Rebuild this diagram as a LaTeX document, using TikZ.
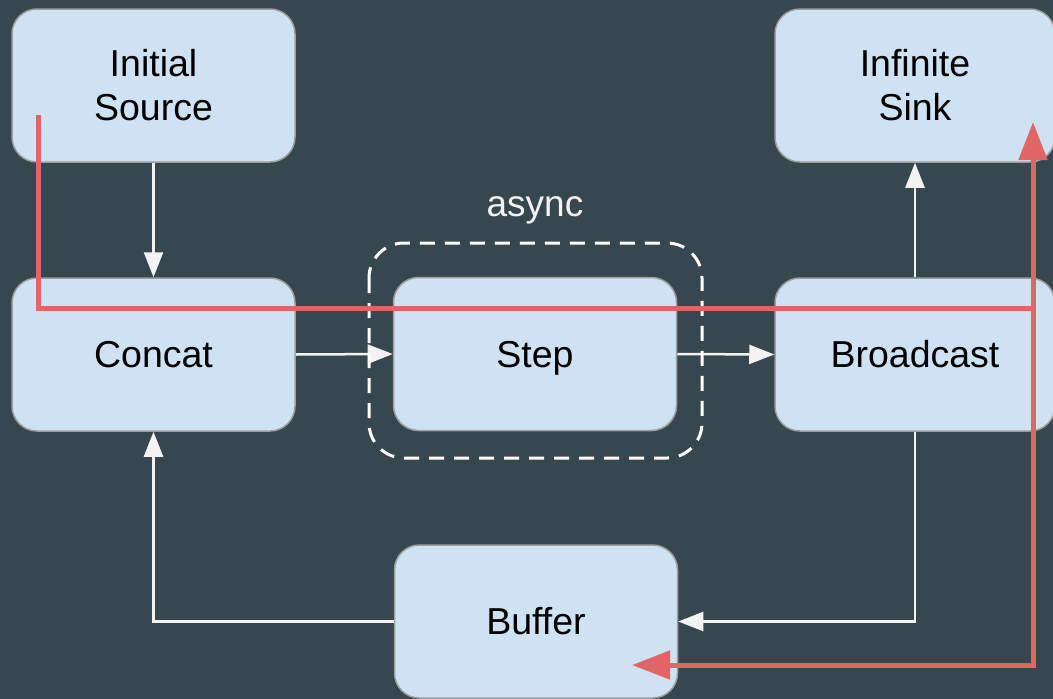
\documentclass[tikz,border=0pt]{standalone}
\usepackage{fontspec}
\setmainfont{Liberation Sans}
\usetikzlibrary{arrows.meta}
\definecolor{bgcol}{HTML}{37474F}
\definecolor{boxfill}{HTML}{CFE2F3}
\definecolor{boxline}{HTML}{9E9E9E}
\definecolor{flowcol}{HTML}{F3F3F3}
\definecolor{pathred}{HTML}{E06666}
\begin{document}
\begin{tikzpicture}[x=1pt,y=-1pt,
  stage/.style={draw=boxline, line width=1.5pt, fill=boxfill, rounded corners=25pt,
    minimum width=283pt, minimum height=153pt, inner sep=0pt, align=center,
    font=\fontsize{37.5}{44}\selectfont, text=black},
  flow/.style={draw=flowcol, line width=2.5pt, -{Triangle[length=25pt,width=19pt]}},
  asyncbox/.style={draw=white, line width=3pt, dash pattern=on 15pt off 10pt, rounded corners=35pt},
  trace/.style={draw=pathred, line width=5pt, -{Triangle[length=38pt,width=28pt]}}]
  \useasboundingbox (0,0) rectangle (1053,699);
  \clip (0,0) rectangle (1053,699);
  \fill[bgcol] (0,0) rectangle (1053,699);

  % stages
  \node[stage] (src)    at (153.5,85.5)  {Initial\\Source};
  \node[stage, minimum width=280pt] (sink) at (915,85.5) {Infinite\\Sink};
  \node[stage] (concat) at (153.5,354.5) {Concat};
  \node[stage, text depth=0pt] (step) at (535,354) {Step};
  \node[stage, minimum width=280pt] (bcast) at (915,354.5) {Broadcast};
  \node[stage] (buffer) at (536,621.5)   {Buffer};

  % data flow
  \draw[flow] (src.south) -- (concat.north);
  \draw[flow] (concat.east) -- (step.west);
  \draw[flow] (step.east) -- (bcast.west);
  \draw[flow] (bcast.north) -- (sink.south);
  \draw[flow] (bcast.south) |- (buffer.east);
  \draw[flow] (buffer.west) -| (concat.south);

  % async region around Step
  \draw[asyncbox] (369,243) rectangle (702,458);
  \node[text=flowcol, font=\fontsize{37}{44}\selectfont, anchor=base, inner sep=0pt] (asynclbl) at (535,216) {async};

  % highlighted trace
  \coordinate (r0)   at (38,115);
  \coordinate (rc)   at (1033,308);
  \coordinate (rtop) at (1033,122);
  \coordinate (rbot) at (1033,665);
  \coordinate (rend) at (632,665);
  \draw[trace] (r0) |- (rc) -- (rtop);
  \draw[trace] (rc) -- (rbot) -- (rend);
\end{tikzpicture}
\end{document}
